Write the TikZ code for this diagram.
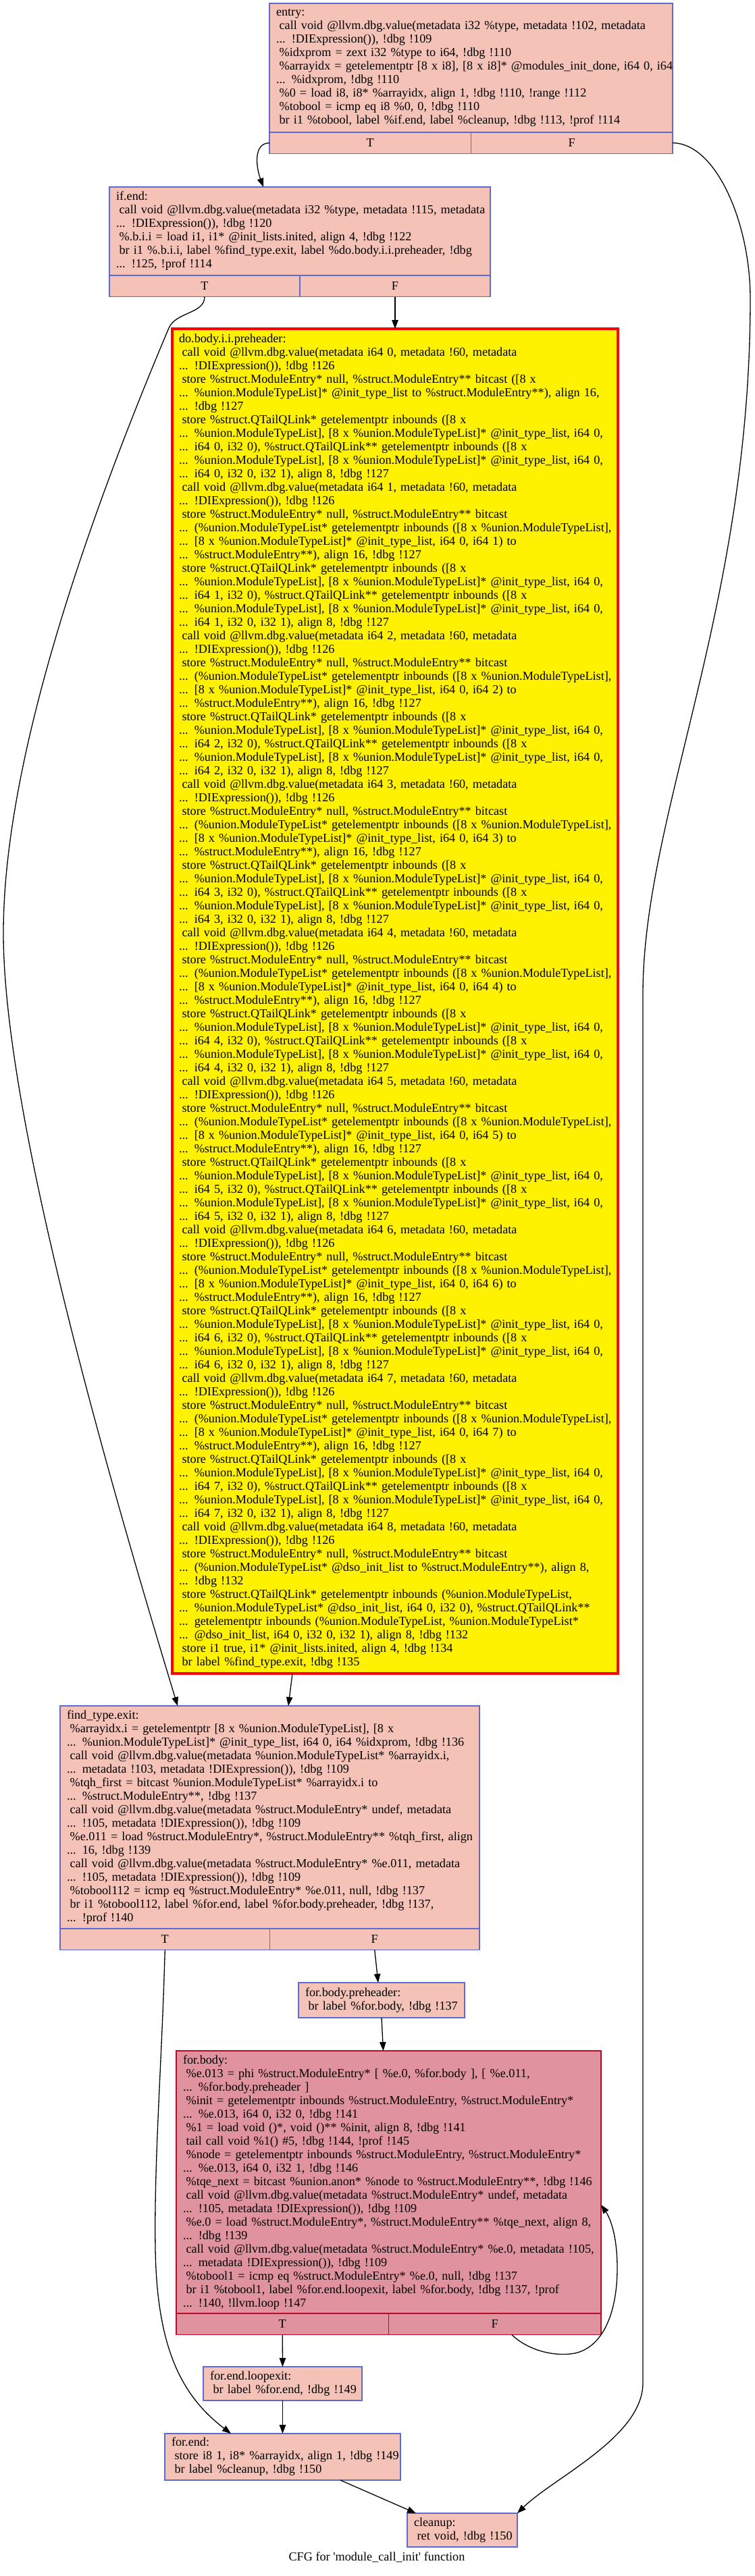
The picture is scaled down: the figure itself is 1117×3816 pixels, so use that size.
\documentclass[tikz,border=0pt]{standalone}
\usepackage{fontspec}
\setmainfont{Liberation Serif}
\usetikzlibrary{positioning,arrows.meta}

\definecolor{blockfill}{HTML}{F4C2B7}
\definecolor{blockline}{HTML}{5A6BD3}
\definecolor{loopfill}{HTML}{E0929E}
\definecolor{loopline}{HTML}{B70D28}

\newcommand{\irfont}{\fontsize{18.2}{20}\selectfont}
\newcommand{\ind}{\hspace*{4.6pt}}
% one unrolled step of the init_type_list loop
\newcommand{\typestep}[1]{%
\ind call void @llvm.dbg.value(metadata i64 #1, metadata !60, metadata\\
... !DIExpression()), !dbg !126\\
\ind store \%struct.ModuleEntry* null, \%struct.ModuleEntry** bitcast\\
... (\%union.ModuleTypeList* getelementptr inbounds ([8 x \%union.ModuleTypeList],\\
... [8 x \%union.ModuleTypeList]* @init\_type\_list, i64 0, i64 #1) to\\
... \%struct.ModuleEntry**), align 16, !dbg !127\\
\ind store \%struct.QTailQLink* getelementptr inbounds ([8 x\\
... \%union.ModuleTypeList], [8 x \%union.ModuleTypeList]* @init\_type\_list, i64 0,\\
... i64 #1, i32 0), \%struct.QTailQLink** getelementptr inbounds ([8 x\\
... \%union.ModuleTypeList], [8 x \%union.ModuleTypeList]* @init\_type\_list, i64 0,\\
... i64 #1, i32 0, i32 1), align 8, !dbg !127\\
}

\begin{document}
\begin{tikzpicture}[x=1pt,y=-1pt,
    block/.style={draw=blockline, fill=blockfill, line width=1.6pt, inner xsep=10pt,
      inner ysep=0pt, outer sep=0pt, anchor=north west, font=\irfont,
      execute at begin node={\rightskip=-40pt plus 1fil\relax}},
    cell/.style={draw=blockline, fill=blockfill, line width=1.6pt, inner sep=0pt,
      outer sep=0pt, minimum height=31.5pt, font=\irfont},
    hot/.style={draw=loopline, fill=loopfill},
    flow/.style={-{Triangle[length=13pt,width=9.5pt]}, line width=1.3pt}]
    \useasboundingbox (0,0) rectangle (1117,3816);

    % entry
    \node[block, text width=577pt, minimum height=191pt] (entry) at (399,5) {entry:\\
    \ind call void @llvm.dbg.value(metadata i32 \%type, metadata !102, metadata\\
    ... !DIExpression()), !dbg !109\\
    \ind \%idxprom = zext i32 \%type to i64, !dbg !110\\
    \ind \%arrayidx = getelementptr [8 x i8], [8 x i8]* @modules\_init\_done, i64 0, i64\\
    ... \%idxprom, !dbg !110\\
    \ind \%0 = load i8, i8* \%arrayidx, align 1, !dbg !110, !range !112\\
    \ind \%tobool = icmp eq i8 \%0, 0, !dbg !110\\
    \ind br i1 \%tobool, label \%if.end, label \%cleanup, !dbg !113, !prof !114};
    \node[cell, minimum width=298.5pt, below right=0pt of entry.south west] (entryT) {T};
    \node[cell, minimum width=298.5pt, right=0pt of entryT] (entryF) {F};

    % if.end
    \node[block, text width=544pt, minimum height=131pt] (ifend) at (162,277) {if.end:\\
    \ind call void @llvm.dbg.value(metadata i32 \%type, metadata !115, metadata\\
    ... !DIExpression()), !dbg !120\\
    \ind \%.b.i.i = load i1, i1* @init\_lists.inited, align 4, !dbg !122\\
    \ind br i1 \%.b.i.i, label \%find\_type.exit, label \%do.body.i.i.preheader, !dbg\\
    ... !125, !prof !114};
    \node[cell, minimum width=282pt, below right=0pt of ifend.south west] (ifendT) {T};
    \node[cell, minimum width=282pt, right=0pt of ifendT] (ifendF) {F};

    % do.body.i.i.preheader (highlighted)
    \node[block, draw=red, fill=yellow, line width=4pt, text width=640pt,
      minimum height=1992pt] (dobody) at (255,487) {do.body.i.i.preheader:\\
    \ind call void @llvm.dbg.value(metadata i64 0, metadata !60, metadata\\
    ... !DIExpression()), !dbg !126\\
    \ind store \%struct.ModuleEntry* null, \%struct.ModuleEntry** bitcast ([8 x\\
    ... \%union.ModuleTypeList]* @init\_type\_list to \%struct.ModuleEntry**), align 16,\\
    ... !dbg !127\\
    \ind store \%struct.QTailQLink* getelementptr inbounds ([8 x\\
    ... \%union.ModuleTypeList], [8 x \%union.ModuleTypeList]* @init\_type\_list, i64 0,\\
    ... i64 0, i32 0), \%struct.QTailQLink** getelementptr inbounds ([8 x\\
    ... \%union.ModuleTypeList], [8 x \%union.ModuleTypeList]* @init\_type\_list, i64 0,\\
    ... i64 0, i32 0, i32 1), align 8, !dbg !127\\
    \typestep{1}\typestep{2}\typestep{3}\typestep{4}\typestep{5}\typestep{6}\typestep{7}
    \ind call void @llvm.dbg.value(metadata i64 8, metadata !60, metadata\\
    ... !DIExpression()), !dbg !126\\
    \ind store \%struct.ModuleEntry* null, \%struct.ModuleEntry** bitcast\\
    ... (\%union.ModuleTypeList* @dso\_init\_list to \%struct.ModuleEntry**), align 8,\\
    ... !dbg !132\\
    \ind store \%struct.QTailQLink* getelementptr inbounds (\%union.ModuleTypeList,\\
    ... \%union.ModuleTypeList* @dso\_init\_list, i64 0, i32 0), \%struct.QTailQLink**\\
    ... getelementptr inbounds (\%union.ModuleTypeList, \%union.ModuleTypeList*\\
    ... @dso\_init\_list, i64 0, i32 0, i32 1), align 8, !dbg !132\\
    \ind store i1 true, i1* @init\_lists.inited, align 4, !dbg !134\\
    \ind br label \%find\_type.exit, !dbg !135};

    % find_type.exit
    \node[block, text width=601pt, minimum height=330pt] (ftexit) at (89,2527) {find\_type.exit:\\
    \ind \%arrayidx.i = getelementptr [8 x \%union.ModuleTypeList], [8 x\\
    ... \%union.ModuleTypeList]* @init\_type\_list, i64 0, i64 \%idxprom, !dbg !136\\
    \ind call void @llvm.dbg.value(metadata \%union.ModuleTypeList* \%arrayidx.i,\\
    ... metadata !103, metadata !DIExpression()), !dbg !109\\
    \ind \%tqh\_first = bitcast \%union.ModuleTypeList* \%arrayidx.i to\\
    ... \%struct.ModuleEntry**, !dbg !137\\
    \ind call void @llvm.dbg.value(metadata \%struct.ModuleEntry* undef, metadata\\
    ... !105, metadata !DIExpression()), !dbg !109\\
    \ind \%e.011 = load \%struct.ModuleEntry*, \%struct.ModuleEntry** \%tqh\_first, align\\
    ... 16, !dbg !139\\
    \ind call void @llvm.dbg.value(metadata \%struct.ModuleEntry* \%e.011, metadata\\
    ... !105, metadata !DIExpression()), !dbg !109\\
    \ind \%tobool112 = icmp eq \%struct.ModuleEntry* \%e.011, null, !dbg !137\\
    \ind br i1 \%tobool112, label \%for.end, label \%for.body.preheader, !dbg !137,\\
    ... !prof !140};
    \node[cell, minimum width=310.5pt, below right=0pt of ftexit.south west] (ftexitT) {T};
    \node[cell, minimum width=310.5pt, right=0pt of ftexitT] (ftexitF) {F};

    % for.body.preheader
    \node[block, text width=226pt, minimum height=52pt] (preheader) at (442,2937) {for.body.preheader:\\
    \ind br label \%for.body, !dbg !137};

    % for.body
    \node[block, hot, text width=609pt, minimum height=389pt] (forbody) at (261,3038) {for.body:\\
    \ind \%e.013 = phi \%struct.ModuleEntry* [ \%e.0, \%for.body ], [ \%e.011,\\
    ... \%for.body.preheader ]\\
    \ind \%init = getelementptr inbounds \%struct.ModuleEntry, \%struct.ModuleEntry*\\
    ... \%e.013, i64 0, i32 0, !dbg !141\\
    \ind \%1 = load void ()*, void ()** \%init, align 8, !dbg !141\\
    \ind tail call void \%1() \#5, !dbg !144, !prof !145\\
    \ind \%node = getelementptr inbounds \%struct.ModuleEntry, \%struct.ModuleEntry*\\
    ... \%e.013, i64 0, i32 1, !dbg !146\\
    \ind \%tqe\_next = bitcast \%union.anon* \%node to \%struct.ModuleEntry**, !dbg !146\\
    \ind call void @llvm.dbg.value(metadata \%struct.ModuleEntry* undef, metadata\\
    ... !105, metadata !DIExpression()), !dbg !109\\
    \ind \%e.0 = load \%struct.ModuleEntry*, \%struct.ModuleEntry** \%tqe\_next, align 8,\\
    ... !dbg !139\\
    \ind call void @llvm.dbg.value(metadata \%struct.ModuleEntry* \%e.0, metadata !105,\\
    ... metadata !DIExpression()), !dbg !109\\
    \ind \%tobool1 = icmp eq \%struct.ModuleEntry* \%e.0, null, !dbg !137\\
    \ind br i1 \%tobool1, label \%for.end.loopexit, label \%for.body, !dbg !137, !prof\\
    ... !140, !llvm.loop !147};
    \node[cell, hot, minimum width=314.5pt, below right=0pt of forbody.south west] (forbodyT) {T};
    \node[cell, hot, minimum width=314.5pt, right=0pt of forbodyT] (forbodyF) {F};

    % for.end.loopexit, for.end, cleanup
    \node[block, text width=215pt, minimum height=50pt] (loopexit) at (301,3506) {for.end.loopexit:\\
    \ind br label \%for.end, !dbg !149};
    \node[block, text width=329pt, minimum height=69pt] (forend) at (244,3605) {for.end:\\
    \ind store i8 1, i8* \%arrayidx, align 1, !dbg !149\\
    \ind br label \%cleanup, !dbg !150};
    \node[block, text width=143pt, minimum height=50pt] (cleanup) at (603,3723) {cleanup:\\
    \ind ret void, !dbg !150};

    % Title
    \node[font=\irfont] (title) at (558,3788) {CFG for \textquotesingle module\_call\_init\textquotesingle\ function};

    % Edges
    \draw[flow] (entryT.west) .. controls (375,212) and (379,247) .. ([xshift=-54pt]ifend.north);
    \draw[flow] (entryF.east) .. controls (1060,212) and (1111,330) .. (1111,442)
      .. controls (1111,900) and (952,1208) .. (952,1473) -- (952,3530)
      .. controls (952,3610) and (820,3670) .. (cleanup.north east);
    \draw[flow] (ifendT.south) .. controls (303,465) and (260,462) .. (250,486)
      .. controls (124,784) and (5,1132) .. (5,1382)
      .. controls (5,1632) and (139,2119) .. ([xshift=-136.5pt]ftexit.north);
    \draw[flow] (ifendF.south) -- (dobody.north);
    \draw[flow] ([xshift=-152pt]dobody.south) -- ([xshift=27.5pt]ftexit.north);
    \draw[flow] (ftexitT.south) .. controls (240,3050) and (228,3200) .. (230,3330)
      .. controls (232,3480) and (270,3550) .. ([xshift=-76.5pt]forend.north);
    \draw[flow] (ftexitF.south) -- ([xshift=-5pt]preheader.north);
    \draw[flow] (preheader.south) -- ([xshift=-8pt]forbody.north);
    \draw[flow] (forbodyT.south) -- (loopexit.north);
    \draw[flow] ([xshift=25pt]forbodyF.south) .. controls (780,3480) and (815,3490) .. (844,3487)
      .. controls (890,3483) and (914,3430) .. (914,3360)
      .. controls (914,3310) and (903,3285) .. ([yshift=-33.5pt]forbody.east);
    \draw[flow] (loopexit.south) -- (forend.north);
    \draw[flow] ([xshift=85.5pt]forend.south) -- ([xshift=-68.5pt]cleanup.north);
\end{tikzpicture}
\end{document}
